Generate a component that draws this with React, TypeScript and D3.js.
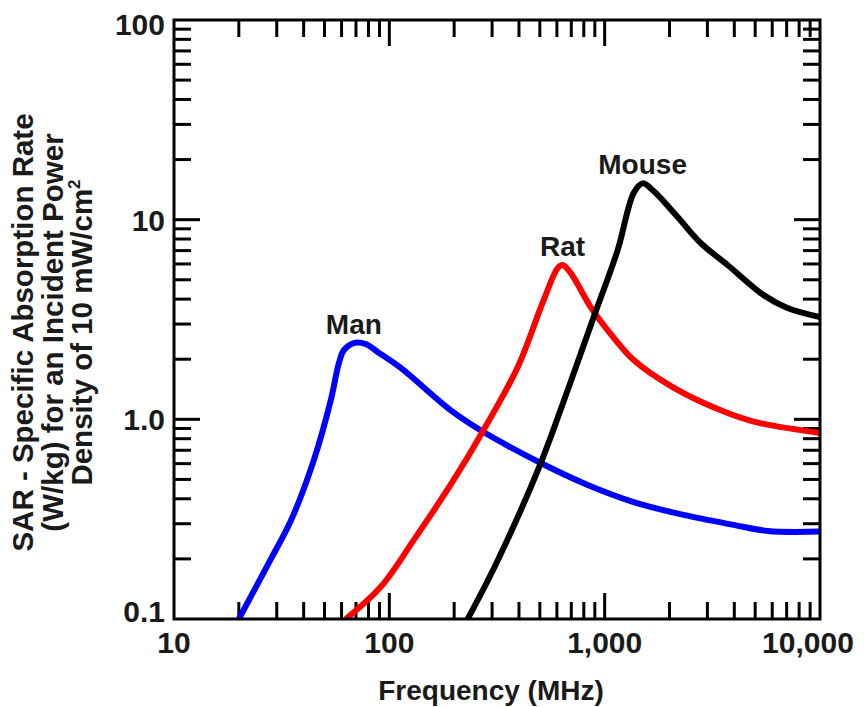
import React, { useEffect, useRef } from 'react';
import * as d3 from 'd3';

// SAR curves (frequency in MHz, SAR in W/kg)
const manFreq = [20, 28, 35, 44.6, 53.5, 58.3, 61.5, 68.4, 77.8, 88.5, 113, 193, 274, 505, 834, 1364, 2326, 3970, 5707, 10000];
const manSar = [0.1, 0.197, 0.313, 0.625, 1.25, 1.91, 2.22, 2.41, 2.38, 2.17, 1.81, 1.11, 0.864, 0.604, 0.469, 0.385, 0.332, 0.296, 0.276, 0.274];

const ratFreq = [62.8, 91.3, 130, 199, 274, 395, 521, 605, 638, 696, 861, 1032, 1364, 2068, 3529, 5020, 10000];
const ratSar = [0.1, 0.145, 0.249, 0.497, 0.884, 1.83, 3.96, 5.72, 5.93, 5.4, 3.65, 2.8, 1.98, 1.45, 1.1, 0.969, 0.854];

const mouseFreq = [231, 319, 505, 673, 889, 1149, 1364, 1501, 1688, 2182, 2790, 3722, 5470, 7066, 10000];
const mouseSar = [0.1, 0.197, 0.604, 1.4, 3.25, 7.04, 13.6, 15.2, 13.9, 10.3, 7.64, 5.93, 4.19, 3.61, 3.25];

const seriesNames = ['Man', 'Rat', 'Mouse'];
const seriesColors = ['#0000ff', '#ff0000', '#000000'];

// axis ticks
const xTickValues = [10, 100, 1000, 10000];
const xTickLabels = ['10', '100', '1,000', '10,000'];
const yTickValues = [100, 10, 1, 0.1];
const yTickLabels = ['100', '10', '1.0', '0.1'];

const xTitle = 'Frequency (MHz)';
const yTitleLines = ['SAR - Specific Absorption Rate', '(W/kg) for an Incident Power', 'Density of 10 mW/cm'];

const App = () => {
  const svgRef = useRef<SVGSVGElement>(null);

  const width = 866;
  const height = 707;
  const margin = { top: 20, right: 46, bottom: 88, left: 174 };
  const font = "'Liberation Sans', Arial, sans-serif";
  const textColor = '#1a1a1a';

  useEffect(() => {
    const svg = d3.select(svgRef.current);
    svg.selectAll('*').remove();

    const x0 = margin.left;
    const x1 = width - margin.right;
    const y0 = margin.top;
    const y1 = height - margin.bottom;

    const xScale = d3.scaleLog().domain([10, 10000]).range([x0, x1]);
    const yScale = d3.scaleLog().domain([0.1, 100]).range([y1, y0]);

    // clip so the curves stop at the frame
    svg
      .append('defs')
      .append('clipPath')
      .attr('id', 'plot-clip')
      .append('rect')
      .attr('x', x0)
      .attr('y', y0)
      .attr('width', x1 - x0)
      .attr('height', y1 - y0);

    // minor + major tick positions
    const xMinor: number[] = [];
    [10, 100, 1000].forEach((d) => {
      for (let k = 2; k <= 9; k++) xMinor.push(d * k);
    });
    const yMinor: number[] = [];
    [0.1, 1, 10].forEach((d) => {
      for (let k = 2; k <= 9; k++) yMinor.push(d * k);
    });
    const xMajor = [100, 1000];
    const yMajor = [1, 10];
    const minorLen = 17;
    const majorLen = 26;

    const ticks = svg.append('g').attr('stroke', '#000').attr('stroke-width', 3);

    const xTicks = [
      ...xMinor.map((v) => ({ v, len: minorLen })),
      ...xMajor.map((v) => ({ v, len: majorLen })),
    ];
    const yTicks = [
      ...yMinor.map((v) => ({ v, len: minorLen })),
      ...yMajor.map((v) => ({ v, len: majorLen })),
    ];

    // bottom & top
    ticks
      .selectAll('line.xb')
      .data(xTicks)
      .enter()
      .append('line')
      .attr('x1', (d) => xScale(d.v))
      .attr('x2', (d) => xScale(d.v))
      .attr('y1', y1)
      .attr('y2', (d) => y1 - d.len);
    ticks
      .selectAll('line.xt')
      .data(xTicks)
      .enter()
      .append('line')
      .attr('x1', (d) => xScale(d.v))
      .attr('x2', (d) => xScale(d.v))
      .attr('y1', y0)
      .attr('y2', (d) => y0 + d.len);

    // left & right
    ticks
      .selectAll('line.yl')
      .data(yTicks)
      .enter()
      .append('line')
      .attr('y1', (d) => yScale(d.v))
      .attr('y2', (d) => yScale(d.v))
      .attr('x1', x0)
      .attr('x2', (d) => x0 + d.len);
    ticks
      .selectAll('line.yr')
      .data(yTicks)
      .enter()
      .append('line')
      .attr('y1', (d) => yScale(d.v))
      .attr('y2', (d) => yScale(d.v))
      .attr('x1', x1)
      .attr('x2', (d) => x1 - d.len);

    // curves
    const series = [
      { f: manFreq, s: manSar },
      { f: ratFreq, s: ratSar },
      { f: mouseFreq, s: mouseSar },
    ];

    const line = d3
      .line<[number, number]>()
      .x((d) => xScale(d[0]))
      .y((d) => yScale(d[1]))
      .curve(d3.curveCatmullRom.alpha(0.5));

    const curves = svg.append('g').attr('clip-path', 'url(#plot-clip)');
    series.forEach((ser, i) => {
      const pts = ser.f.map((f, j) => [f, ser.s[j]] as [number, number]);
      curves
        .append('path')
        .attr('d', line(pts))
        .attr('fill', 'none')
        .attr('stroke', seriesColors[i])
        .attr('stroke-width', 6)
        .attr('stroke-linejoin', 'round');
    });

    // frame on top
    svg
      .append('rect')
      .attr('x', x0)
      .attr('y', y0)
      .attr('width', x1 - x0)
      .attr('height', y1 - y0)
      .attr('fill', 'none')
      .attr('stroke', '#000')
      .attr('stroke-width', 3);

    // curve labels over the peaks
    series.forEach((ser, i) => {
      const peak = d3.maxIndex(ser.s);
      svg
        .append('text')
        .attr('x', xScale(ser.f[peak]))
        .attr('y', yScale(ser.s[peak]) - 9)
        .attr('text-anchor', 'middle')
        .style('font-family', font)
        .style('font-weight', 'bold')
        .style('font-size', '28px')
        .style('fill', textColor)
        .text(seriesNames[i]);
    });

    // x tick labels
    svg
      .append('g')
      .selectAll('text')
      .data(xTickValues)
      .enter()
      .append('text')
      .attr('x', (d) => Math.min(xScale(d), x1 - 12))
      .attr('y', y1 + 34)
      .attr('text-anchor', 'middle')
      .style('font-family', font)
      .style('font-weight', 'bold')
      .style('font-size', '30px')
      .style('fill', textColor)
      .text((d, i) => xTickLabels[i]);

    // y tick labels
    svg
      .append('g')
      .selectAll('text')
      .data(yTickValues)
      .enter()
      .append('text')
      .attr('x', x0 - 9)
      .attr('y', (d) => Math.min(Math.max(yScale(d) + 11, y0 + 15), y1 + 3))
      .attr('text-anchor', 'end')
      .style('font-family', font)
      .style('font-weight', 'bold')
      .style('font-size', '30px')
      .style('fill', textColor)
      .text((d, i) => yTickLabels[i]);

    // x title
    svg
      .append('text')
      .attr('x', (x0 + x1) / 2 - 6)
      .attr('y', height - 7)
      .attr('text-anchor', 'middle')
      .style('font-family', font)
      .style('font-weight', 'bold')
      .style('font-size', '28px')
      .style('fill', textColor)
      .text(xTitle);

    // y title, three rotated lines
    const yTitle = svg
      .append('g')
      .style('font-family', font)
      .style('font-weight', 'bold')
      .style('font-size', '29.5px')
      .style('fill', textColor);
    const lineX = [33, 63, 92];
    yTitleLines.forEach((t, i) => {
      const txt = yTitle
        .append('text')
        .attr('transform', `translate(${lineX[i]}, ${(y0 + y1) / 2 + 13}) rotate(-90)`)
        .attr('text-anchor', 'middle')
        .text(t);
      if (i === 2) {
        txt.append('tspan').attr('dy', -12).style('font-size', '17px').text('2');
      }
    });
  }, []);

  return (
    <div>
      <svg
        ref={svgRef}
        width={width}
        height={height}
        style={{ position: 'absolute', left: 0, top: 0, background: '#fff' }}
      ></svg>
    </div>
  );
};

export default App;
